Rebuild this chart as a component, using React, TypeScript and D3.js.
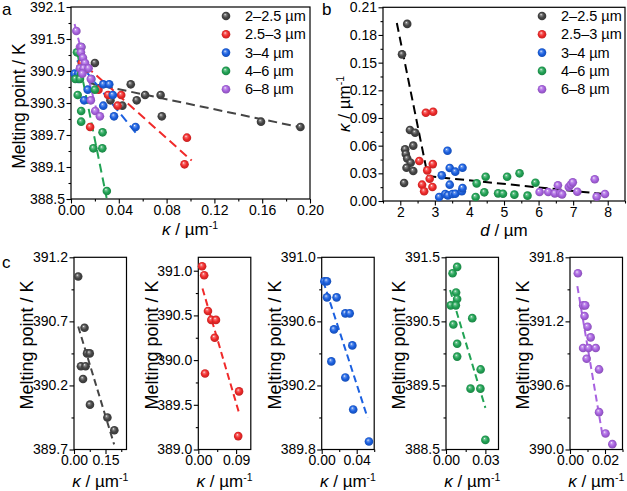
import React, { useRef, useEffect } from 'react';
import * as d3 from 'd3';

const FONT = '"Liberation Sans", Arial, sans-serif';

const sizeClasses = ['2–2.5 µm', '2.5–3 µm', '3–4 µm', '4–6 µm', '6–8 µm'];
const classColors = ['#454545', '#f02a2a', '#1b60e0', '#22a355', '#a862e0'];

// melting point (K) vs curvature kappa (µm^-1), one list per size class: [kappa, T]
const tm2to25 = [
  [0.020, 391.05], [0.050, 390.65], [0.062, 390.45], [0.075, 390.45], [0.033, 390.35],
  [0.055, 390.35], [0.043, 390.25], [0.076, 390.05], [0.159, 389.95], [0.192, 389.85],
];
const tm25to3 = [
  [0.009, 391.05], [0.014, 390.95], [0.023, 390.55], [0.031, 390.45], [0.042, 390.45],
  [0.039, 390.25], [0.016, 389.85], [0.097, 389.65], [0.095, 389.15],
];
const tm3to4 = [
  [0.003, 390.85], [0.006, 390.85], [0.006, 390.75], [0.017, 390.75], [0.027, 390.65],
  [0.032, 390.65], [0.014, 390.55], [0.035, 390.45], [0.011, 390.35], [0.027, 390.25],
  [0.036, 390.05], [0.054, 389.85],
];
const tm4to6 = [
  [0.005, 391.25], [0.0085, 391.35], [0.0077, 390.95], [0.0085, 390.85], [0.0036, 390.75],
  [0.0075, 390.75], [0.0056, 390.45], [0.020, 390.55], [0.0085, 390.15], [0.0085, 389.95],
  [0.0264, 389.75], [0.0187, 389.45], [0.0262, 389.45], [0.030, 388.65],
];
const tm6to8 = [
  [0.0045, 391.65], [0.0075, 391.35], [0.0087, 391.35], [0.0083, 391.25], [0.010, 391.15],
  [0.0118, 391.05], [0.0075, 390.95], [0.0106, 390.95], [0.0147, 390.95], [0.0095, 390.85],
  [0.0166, 390.75], [0.0166, 390.35], [0.0203, 390.15], [0.0242, 390.05],
];
const tmSeries = [tm2to25, tm25to3, tm3to4, tm4to6, tm6to8];

// curvature vs crystal size d (µm): [d, kappa]
const kd2to25 = [
  [2.2, 0.192], [2.05, 0.159], [2.28, 0.077], [2.43, 0.074], [2.375, 0.060], [2.14, 0.056],
  [2.16, 0.051], [2.20, 0.046], [2.30, 0.0415], [2.18, 0.036], [2.375, 0.0325], [2.11, 0.0195],
];
const kd25to3 = [
  [2.74, 0.0956], [2.95, 0.0967], [2.55, 0.0433], [2.94, 0.040], [2.78, 0.0332],
  [2.85, 0.0242], [2.63, 0.0177], [2.93, 0.0152], [2.69, 0.0105],
];
const kd3to4 = [
  [3.125, 0.0043], [3.20, 0.0278], [3.365, 0.0545], [3.43, 0.0357], [3.59, 0.0318],
  [3.80, 0.0361], [3.43, 0.0177], [3.30, 0.0076], [3.375, 0.0061], [3.51, 0.0076],
  [3.59, 0.0079], [3.78, 0.0105], [3.80, 0.014],
];
const kd4to6 = [
  [4.21, 0.0191], [4.47, 0.0263], [5.09, 0.0263], [5.45, 0.030], [5.91, 0.0198],
  [4.18, 0.0043], [4.43, 0.0094], [4.83, 0.0083], [4.97, 0.0079], [5.30, 0.0069], [5.68, 0.0058],
];
const kd6to8 = [
  [6.03, 0.0097], [6.28, 0.0097], [6.56, 0.017], [6.47, 0.0083], [6.63, 0.0083], [6.68, 0.0072],
  [6.875, 0.0152], [6.93, 0.0177], [6.99, 0.0202], [7.12, 0.0101], [7.625, 0.0235],
  [7.68, 0.0047], [7.92, 0.0076],
];
const kdSeries = [kd2to25, kd25to3, kd3to4, kd4to6, kd6to8];

// dashed guide lines, [kappa0, T0, kappa1, T1]
const fitsA = [
  [0.016, 390.67, 0.193, 389.84],
  [0.0126, 390.99, 0.101, 389.22],
  [0.005, 391.1, 0.055, 389.72],
  [0.0055, 391.22, 0.0298, 388.52],
  [0.003, 391.78, 0.021, 390.2],
];
const fitsC = [
  [0.020, 390.66, 0.191, 389.74],
  [0.010, 390.80, 0.0976, 389.40],
  [0.0018, 390.85, 0.0523, 390.0],
  [0.0031, 390.99, 0.030, 389.15],
  [0.0042, 391.53, 0.0184, 390.15],
];
// two-segment trend of kappa against d, [d0, k0, d1, k1]
const trendB = [
  [1.9, 0.193, 2.78, 0.030],
  [2.78, 0.027, 7.9, 0.0075],
];

// axis settings of the five small panels
const cKappaMax = [0.25, 0.125, 0.06, 0.04, 0.03];
const cKappaStep = [0.15, 0.09, 0.04, 0.03, 0.02];
const cTempMin = [389.7, 389.0, 389.8, 388.5, 390.0];
const cTempMax = [391.2, 391.15, 391.0, 391.5, 391.8];
const cTempStep = [0.5, 0.5, 0.4, 1.0, 0.6];

const stepTicks = (start: number, stop: number, step: number) => {
  const out: number[] = [];
  for (let v = start; v <= stop + step * 1e-6; v += step) out.push(+v.toFixed(6));
  return out;
};

function drawAxes(g, x, y, xMajor, xMinor, yMajor, yMinor, xFmt, yFmt) {
  const [x0, x1] = x.range();
  const [y0, y1] = y.range();
  const style = (sel) => {
    sel.select('.domain').remove();
    sel.selectAll('line').attr('stroke', '#000').attr('stroke-width', 1.1);
    sel.selectAll('text').attr('font-size', 14).attr('font-family', FONT).attr('fill', '#000');
  };
  g.append('g').attr('transform', `translate(0,${y0})`)
    .call(d3.axisBottom(x).tickValues(xMinor).tickSize(2.5).tickFormat(() => '')).call(style);
  g.append('g').attr('transform', `translate(0,${y0})`)
    .call(d3.axisBottom(x).tickValues(xMajor).tickSize(4.5).tickPadding(1.5).tickFormat(xFmt)).call(style);
  g.append('g').attr('transform', `translate(${x0},0)`)
    .call(d3.axisLeft(y).tickValues(yMinor).tickSize(2.5).tickFormat(() => '')).call(style);
  g.append('g').attr('transform', `translate(${x0},0)`)
    .call(d3.axisLeft(y).tickValues(yMajor).tickSize(4.5).tickPadding(1.5).tickFormat(yFmt)).call(style);
  g.append('rect')
    .attr('x', x0).attr('y', y1).attr('width', x1 - x0).attr('height', y0 - y1)
    .attr('fill', 'none').attr('stroke', '#000').attr('stroke-width', 1.2);
}

function kappaLabel(g, x, y, rotate) {
  const t = g.append('text')
    .attr('transform', `translate(${x},${y})${rotate ? ' rotate(-90)' : ''}`)
    .attr('text-anchor', 'middle').attr('font-family', FONT).attr('font-size', 17).attr('fill', '#000');
  t.append('tspan').attr('font-style', 'italic').text('κ');
  t.append('tspan').text(' / µm');
  t.append('tspan').attr('font-size', 10.5).attr('dy', -6).text('-1');
}

function drawBalls(g, data, x, y, i, r = 4.3) {
  g.append('g').selectAll('circle').data(data).enter().append('circle')
    .attr('cx', d => x(d[0])).attr('cy', d => y(d[1])).attr('r', r)
    .attr('fill', `url(#ball${i})`);
}

function drawFit(g, f, x, y, i, dash) {
  g.append('line')
    .attr('x1', x(f[0])).attr('y1', y(f[1])).attr('x2', x(f[2])).attr('y2', y(f[3]))
    .attr('stroke', i < 0 ? '#000' : classColors[i]).attr('stroke-width', 2)
    .attr('stroke-dasharray', dash);
}

function drawLegend(g, xm, yTop) {
  sizeClasses.forEach((name, i) => {
    const yy = yTop + i * 18.3;
    g.append('circle').attr('cx', xm).attr('cy', yy).attr('r', 4.3).attr('fill', `url(#ball${i})`);
    g.append('text').attr('x', xm + 19).attr('y', yy + 5)
      .attr('font-family', FONT).attr('font-size', 14.5).attr('fill', '#000').text(name);
  });
}

export default function App() {
  const ref = useRef<SVGSVGElement>(null);

  useEffect(() => {
    const svg = d3.select(ref.current);
    svg.selectAll('*').remove();

    const defs = svg.append('defs');
    classColors.forEach((c, i) => {
      const grad = defs.append('radialGradient').attr('id', `ball${i}`)
        .attr('cx', '50%').attr('cy', '50%').attr('r', '55%').attr('fx', '38%').attr('fy', '32%');
      grad.append('stop').attr('offset', '0%').attr('stop-color', '#ffffff');
      grad.append('stop').attr('offset', '20%').attr('stop-color', d3.interpolateRgb(c, '#fff')(0.35));
      grad.append('stop').attr('offset', '55%').attr('stop-color', c);
      grad.append('stop').attr('offset', '100%').attr('stop-color', d3.color(c).darker(0.7).formatHex());
    });

    const letter = (t, x, y) => svg.append('text').attr('x', x).attr('y', y)
      .attr('font-family', FONT).attr('font-size', 17).attr('fill', '#000').text(t);

    // ---- a: melting point vs curvature, all classes
    const ga = svg.append('g');
    const xa = d3.scaleLinear().domain([0, 0.2]).range([71, 310]);
    const ya = d3.scaleLinear().domain([388.5, 392.1]).range([199, 7]);
    drawAxes(ga, xa, ya,
      stepTicks(0, 0.2, 0.04), stepTicks(0.02, 0.2, 0.04),
      stepTicks(388.5, 392.1, 0.6), stepTicks(388.8, 392.1, 0.6),
      d3.format('.2f'), d3.format('.1f'));
    fitsA.forEach((f, i) => drawFit(ga, f, xa, ya, i, '9,5'));
    tmSeries.forEach((s, i) => drawBalls(ga, s, xa, ya, i));
    drawLegend(ga, 226, 16);
    ga.append('text').attr('transform', 'translate(19,106) rotate(-90)')
      .attr('text-anchor', 'middle').attr('dy', '0.35em')
      .attr('font-family', FONT).attr('font-size', 17.5).text('Melting point / K');
    kappaLabel(ga, 190, 235, false);
    letter('a', 2, 15);

    // ---- b: curvature vs crystal size
    const gb = svg.append('g');
    const xb = d3.scaleLinear().domain([1.5, 8.5]).range([383, 625]);
    const yb = d3.scaleLinear().domain([0, 0.21]).range([201, 7.3]);
    drawAxes(gb, xb, yb,
      stepTicks(2, 8, 1), stepTicks(1.5, 8.5, 1),
      stepTicks(0, 0.21, 0.03), stepTicks(0.015, 0.21, 0.03),
      d3.format('d'), d3.format('.2f'));
    trendB.forEach(f => drawFit(gb, f, xb, yb, -1, '9,5'));
    kdSeries.forEach((s, i) => drawBalls(gb, s, xb, yb, i));
    drawLegend(gb, 542, 16);
    kappaLabel(gb, 350, 104, true);
    const dl = gb.append('text').attr('x', 504).attr('y', 236).attr('text-anchor', 'middle')
      .attr('font-family', FONT).attr('font-size', 17);
    dl.append('tspan').attr('font-style', 'italic').text('d');
    dl.append('tspan').text(' / µm');
    letter('b', 322, 15);

    // ---- c: one small panel per size class
    const cLeft = [74, 198.3, 321.7, 446, 570];
    const cWidth = 52.5;
    tmSeries.forEach((s, i) => {
      const gc = svg.append('g');
      const x = d3.scaleLinear().domain([0, cKappaMax[i]]).range([cLeft[i], cLeft[i] + cWidth]);
      const y = d3.scaleLinear().domain([cTempMin[i], cTempMax[i]]).range([449.5, 257.3]);
      drawAxes(gc, x, y,
        stepTicks(0, cKappaMax[i], cKappaStep[i]), stepTicks(cKappaStep[i] / 2, cKappaMax[i], cKappaStep[i]),
        stepTicks(cTempMin[i], cTempMax[i], cTempStep[i]),
        stepTicks(cTempMin[i] + cTempStep[i] / 2, cTempMax[i], cTempStep[i]),
        d3.format('.2f'), d3.format('.1f'));
      drawFit(gc, fitsC[i], x, y, i, '7,4');
      drawBalls(gc, s, x, y, i);
      gc.append('text').attr('transform', `translate(${cLeft[i] - 47},345) rotate(-90)`)
        .attr('text-anchor', 'middle').attr('dy', '0.35em')
        .attr('font-family', FONT).attr('font-size', 18).text('Melting point / K');
      kappaLabel(gc, cLeft[i] + cWidth / 2, 487, false);
    });
    letter('c', 2, 268);
  }, []);

  return (
    <svg ref={ref} width={627} height={491}
      style={{ position: 'absolute', left: 0, top: 0, background: '#fff' }} />
  );
}
